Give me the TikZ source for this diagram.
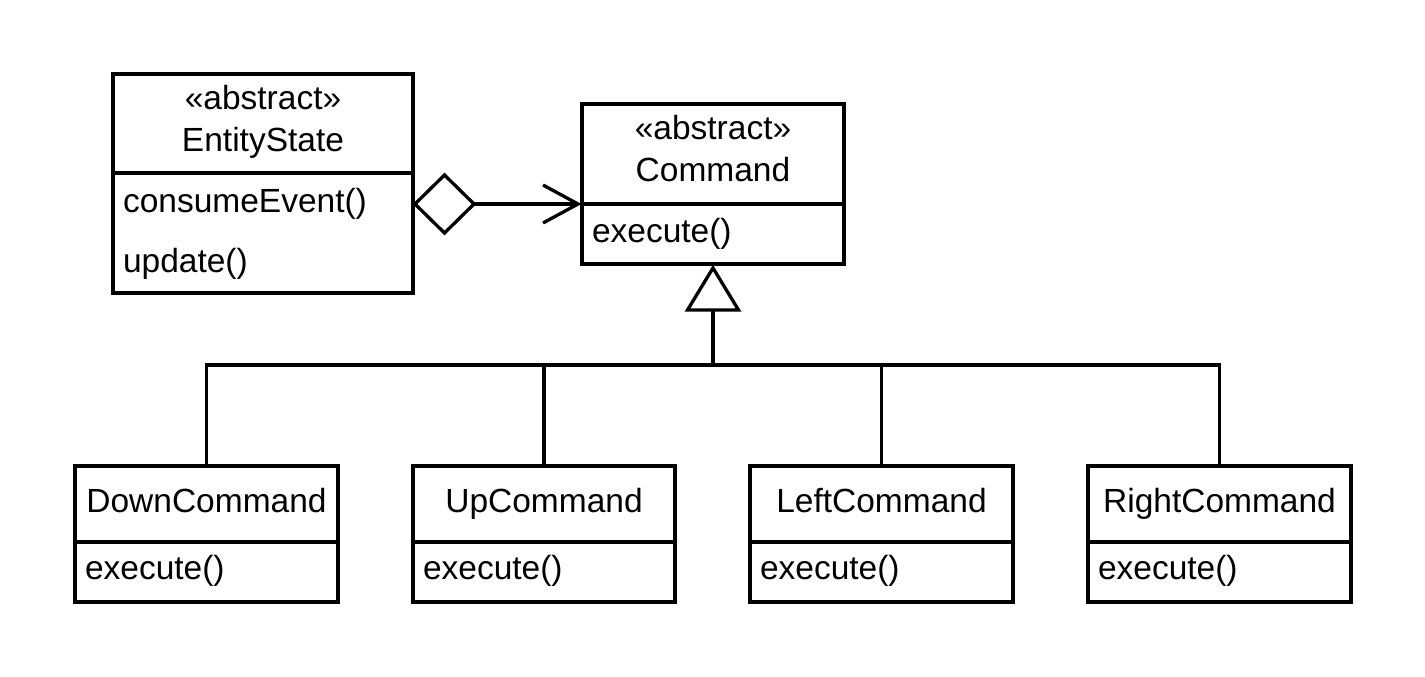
\documentclass[tikz,border=0pt]{standalone}
\usepackage{fontspec}
\setmainfont{Liberation Sans}
\usetikzlibrary{calc}
\begin{document}
\begin{tikzpicture}[x=1pt,y=-1pt,line width=3.3pt,
  cls/.style={draw, rectangle, inner sep=0pt, outer sep=0pt, anchor=north west},
  txt/.style={inner sep=0pt, outer sep=0pt, font=\fontsize{33.5}{40}\selectfont},
  ctr/.style={txt, anchor=base},
  lft/.style={txt, anchor=base west}]
\fill[white] (0,0) rectangle (1425,677);
\useasboundingbox (0,0) rectangle (1425,677);
% classes
\node[cls, minimum width=300pt, minimum height=219pt] (es) at (113,74) {};
\node[cls, minimum width=262pt, minimum height=160pt] (cmd) at (582,104) {};
\node[cls, minimum width=263pt, minimum height=136pt] (down) at (75,466) {};
\node[cls, minimum width=262pt, minimum height=136pt] (up) at (413,466) {};
\node[cls, minimum width=263pt, minimum height=136pt] (left) at (750,466) {};
\node[cls, minimum width=263pt, minimum height=136pt] (right) at (1088,466) {};
% dividers
\draw ($(es.north west)+(0,99)$) -- ($(es.north east)+(0,99)$);
\draw ($(cmd.north west)+(0,100)$) -- ($(cmd.north east)+(0,100)$);
\foreach \n in {down,up,left,right}
  \draw ($(\n.north west)+(0,76)$) -- ($(\n.north east)+(0,76)$);
% texts
\node[ctr] (esst) at ($(es.north)+(0,35.5)$) {«abstract»};
\node[ctr] (esnm) at ($(es.north)+(0,77.5)$) {EntityState};
\node[lft] (esa1) at ($(es.north west)+(10,138)$) {consumeEvent()};
\node[lft] (esa2) at ($(es.north west)+(10,198)$) {update()};
\node[ctr] (cmst) at ($(cmd.north)+(0,35.5)$) {«abstract»};
\node[ctr] (cmnm) at ($(cmd.north)+(0,77.5)$) {Command};
\node[lft] (cma1) at ($(cmd.north west)+(10,138)$) {execute()};
\foreach \n/\t in {down/DownCommand,up/UpCommand,left/LeftCommand,right/RightCommand}{
  \node[ctr] (\n nm) at ($(\n.north)+(0,46)$) {\t};
  \node[lft] (\n op) at ($(\n.north west)+(10,113)$) {execute()};
}
% aggregation
\coordinate (dl) at ($(es.north east)+(2,130)$);
\coordinate (dr) at ($(dl)+(59,0)$);
\coordinate (at) at ($(cmd.north west)+(-4,100)$);
\draw[line join=miter] (dl) -- ++(29.5,-29) -- (dr) -- ++(-29.5,29) -- cycle;
\draw (dr) -- (at);
\draw ($(at)+(-35,-19)$) -- (at) -- ($(at)+(-35,19)$);
% generalization
\coordinate (apex) at ($(cmd.south)+(0,4)$);
\coordinate (tb) at ($(apex)+(0,42)$);
\coordinate (bus) at (713,365);
\draw[line join=miter] (apex) -- ($(tb)+(-25.5,0)$) -- ($(tb)+(25.5,0)$) -- cycle;
\draw (tb) -- (bus);
\draw (down.north) -- (down.north |- bus) -- (right.north |- bus) -- (right.north);
\draw (up.north) -- (up.north |- bus);
\draw (left.north) -- (left.north |- bus);
\end{tikzpicture}
\end{document}
